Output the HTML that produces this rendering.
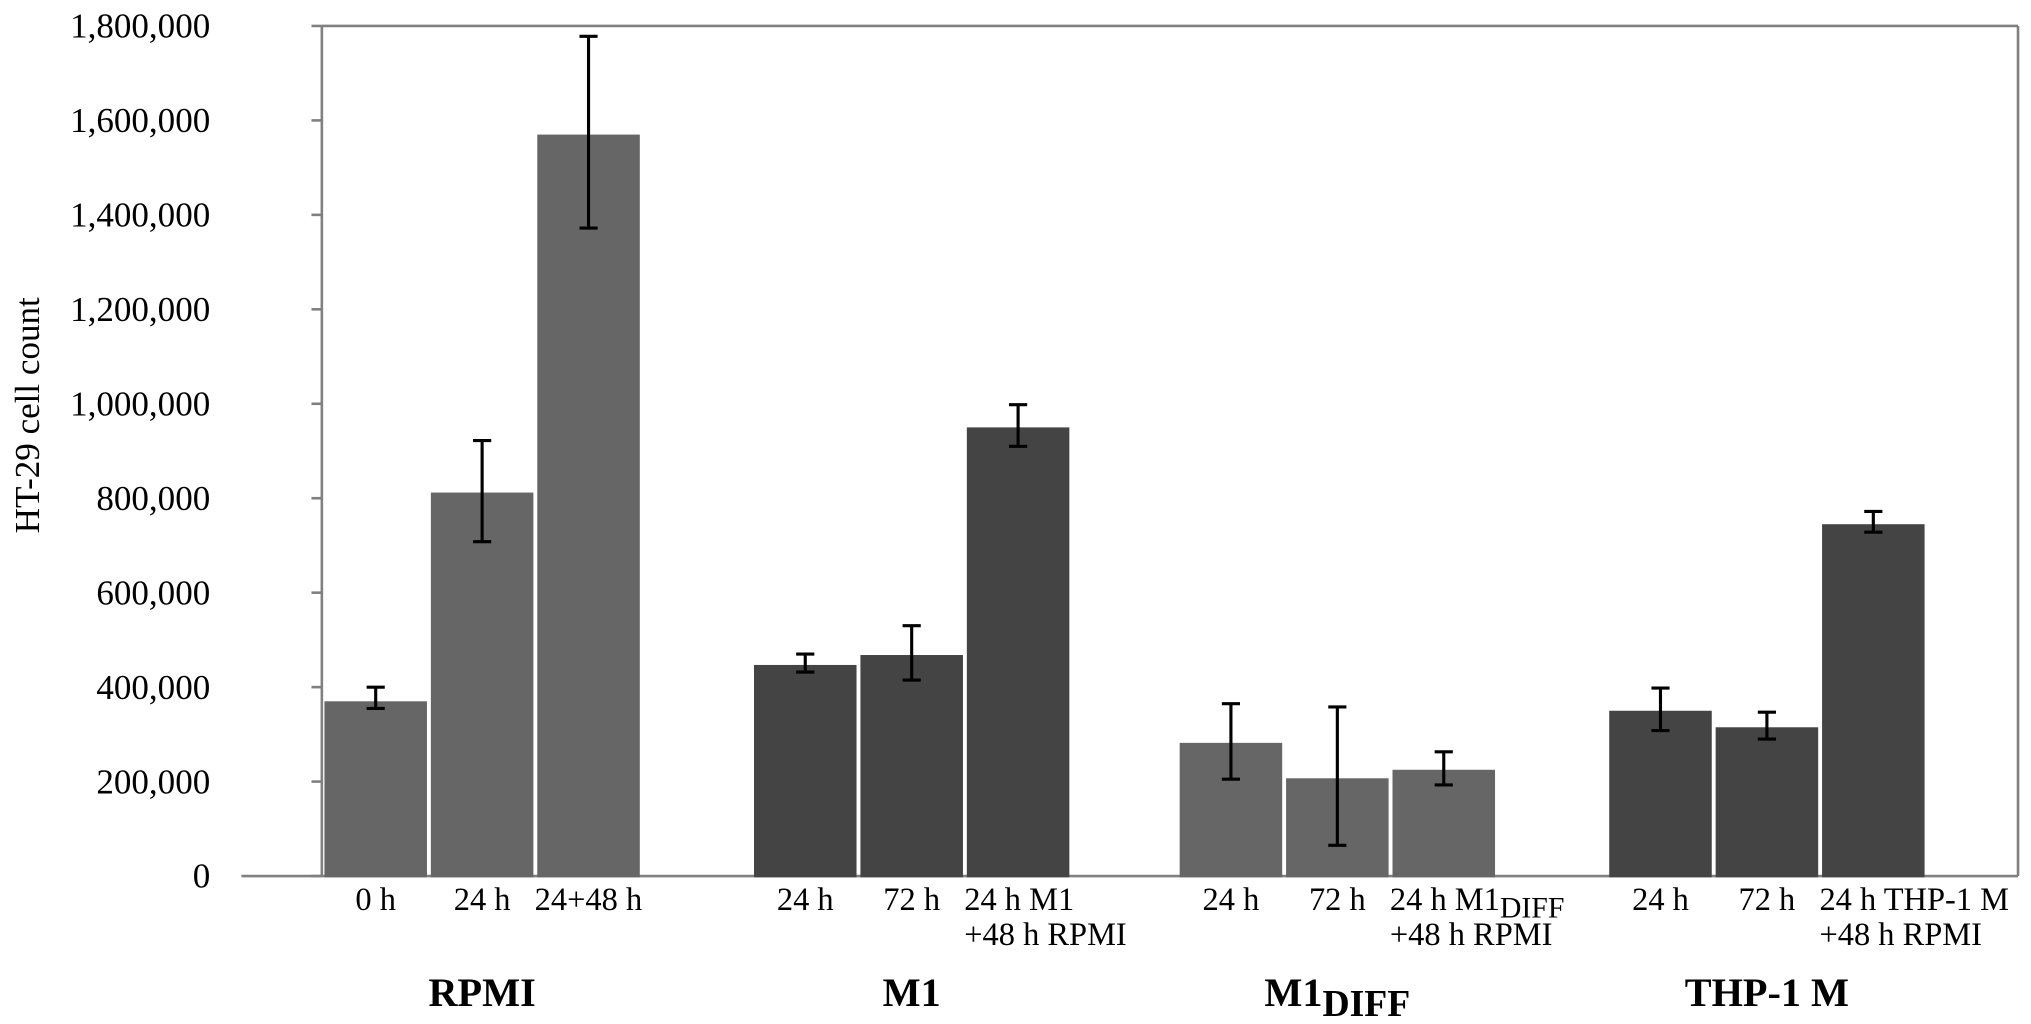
<!DOCTYPE html>
<html><head><meta charset="utf-8"><style>
html,body{margin:0;padding:0;background:#fff;}
svg{display:block;}
text{font-family:"Liberation Serif",serif;fill:#000;}
</style></head><body>
<svg id="chart" width="2031" height="1024" viewBox="0 0 1565 789" preserveAspectRatio="none" xmlns="http://www.w3.org/2000/svg">
<g id="axes"></g>
<g id="bars"></g>
<g id="labels"></g>
</svg>
<script>
const groups = ["RPMI","M1","M1DIFF","THP-1 M"];
const catLabels = [["0 h"],["24 h"],["24+48 h"],["24 h"],["72 h"],["24 h M1","+48 h RPMI"],["24 h"],["72 h"],["24 h M1DIFF","+48 h RPMI"],["24 h"],["72 h"],["24 h THP-1 M","+48 h RPMI"]];
const values = [370000,812000,1570000,447000,468000,950000,282000,207000,225000,350000,315000,745000];
const errLow = [355000,708000,1372000,432000,415000,910000,205000,65000,193000,308000,290000,728000];
const errHigh = [400000,922000,1778000,470000,530000,998000,365000,358000,263000,398000,347000,772000];
const yTicks = [0,200000,400000,600000,800000,1000000,1200000,1400000,1600000,1800000];
const yTickLabels = ["0","200,000","400,000","600,000","800,000","1,000,000","1,200,000","1,400,000","1,600,000","1,800,000"];

const NS="http://www.w3.org/2000/svg";
const X0=248, X1=1555, Y0=675, YT=20, YMAX=1800000;
const y = v => Y0 - (v/YMAX)*(Y0-YT);
const groupStarts = [250,581,909,1240];
const groupStart = g => groupStarts[g];
const barW = 79, gap = 3;
const xBar = i => groupStart(Math.floor(i/3)) + (i%3)*(barW+gap);
const colors = ["#666666","#444444","#666666","#444444"];
function mk(tag, attrs, parent){const e=document.createElementNS(NS,tag);for(const k in attrs)e.setAttribute(k,attrs[k]);parent.appendChild(e);return e;}
const axes=document.getElementById('axes'), bars=document.getElementById('bars'), labels=document.getElementById('labels');

let l=mk('line',{x1:X0,y1:YT,x2:X0,y2:Y0,stroke:'#808080','stroke-width':2},axes);


l=mk('line',{x1:X0,y1:YT,x2:X1,y2:YT,stroke:'#808080','stroke-width':2},axes);


l=mk('line',{x1:X1,y1:YT,x2:X1,y2:Y0,stroke:'#808080','stroke-width':2},axes);


l=mk('line',{x1:186,y1:Y0,x2:X1,y2:Y0,stroke:'#808080','stroke-width':2},axes);



yTicks.forEach((t,i)=>{
  const tk=mk('line',{x1:X0-8,y1:y(t),x2:X0,y2:y(t),stroke:'#808080','stroke-width':2},axes);
  
  
  const tx=mk('text',{x:162,y:y(t)+9,'text-anchor':'end','font-size':27},axes);
  tx.textContent=yTickLabels[i];
  
  
});
const yt=mk('text',{x:0,y:0,'text-anchor':'middle','font-size':27,transform:'translate(30,320) rotate(-90)'},axes);
yt.textContent='HT-29 cell count';



values.forEach((v,i)=>{
  const g=Math.floor(i/3), x=xBar(i);
  const r=mk('rect',{x:x,y:y(v),width:barW,height:Y0-y(v)+1,fill:colors[g]},bars);
  
  
  const cx=x+barW/2;
  const eb=mk('path',{d:`M${cx},${y(errLow[i])}V${y(errHigh[i])}M${cx-7},${y(errLow[i])}H${cx+7}M${cx-7},${y(errHigh[i])}H${cx+7}`,stroke:'#000','stroke-width':2.4,fill:'none'},bars);
  
  
  catLabels[i].forEach((s,j)=>{
    const t=mk('text',{x:cx,y:701+j*27,'text-anchor':'middle','font-size':25},labels);
    if((j===0&&s.length>6)||j===1){t.setAttribute('text-anchor','start');t.setAttribute('x',x-2);}
    if(s.endsWith('DIFF')){
      t.textContent=s.replace('DIFF','');
      const sp=mk('tspan',{dy:6,'font-size':23},t);sp.textContent='DIFF';
    } else t.textContent=s;
    
    
  });
});
groups.forEach((g,i)=>{
  const cx=groupStart(i)+ (3*barW+2*gap)/2;
  const t=mk('text',{x:cx,y:775,'text-anchor':'middle','font-size':31,'font-weight':'bold'},labels);
  if(g==='M1DIFF'){t.textContent='M1';const sp=mk('tspan',{dy:8,'font-size':29},t);sp.textContent='DIFF';}
  else t.textContent=g;
  
  
});
</script>
</body></html>
